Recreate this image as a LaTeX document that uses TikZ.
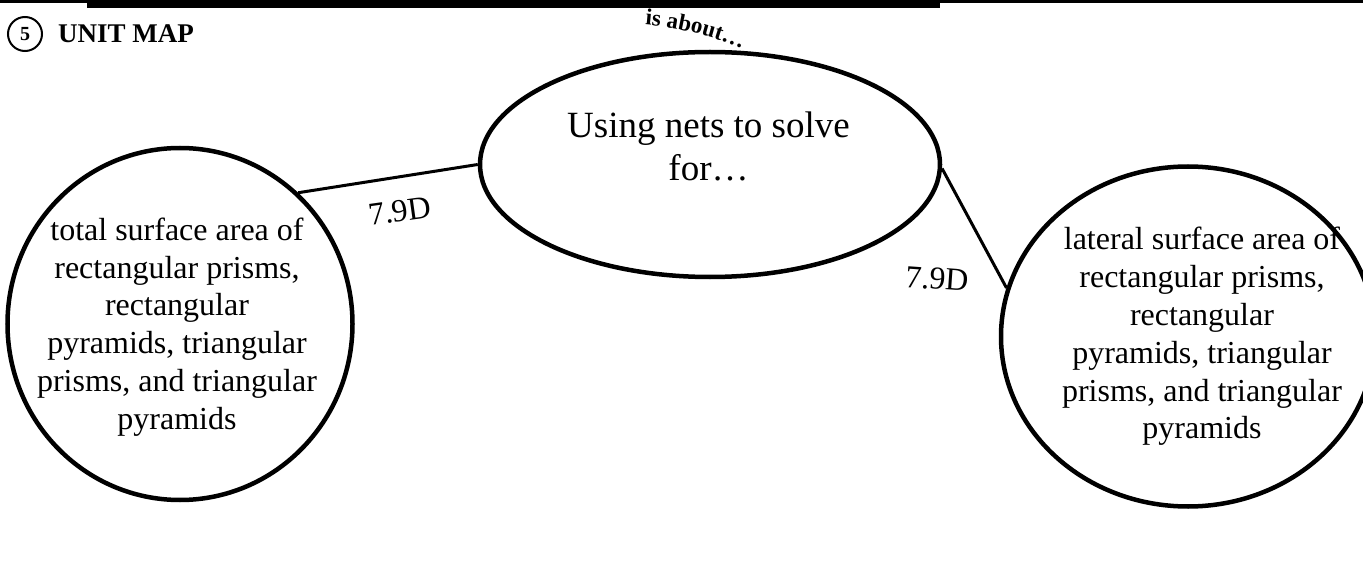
\documentclass[tikz,border=0pt]{standalone}
\usepackage{fontspec}
\setmainfont{Liberation Serif}
\usetikzlibrary{shapes.geometric,decorations.text}
\tikzset{
  bubble/.style={ellipse, draw, line width=4.5pt, inner sep=0pt},
  conn/.style={line width=3pt},
  ctext/.style={align=center, inner sep=0pt, font=\fontsize{32}{37.8}\selectfont},
  mtext/.style={align=center, inner sep=0pt, font=\fontsize{37}{43}\selectfont},
  lbl/.style={inner sep=0pt, font=\fontsize{32}{36}\selectfont},
}
\begin{document}
\begin{tikzpicture}[x=1pt,y=-1pt]
\useasboundingbox (0,0) rectangle (1363,588);
% top rules
\fill (0,0) rectangle (1363,3);
\fill (87,0) rectangle (940,8);
% heading
\node[circle, draw, line width=2pt, minimum size=34pt, inner sep=0pt,
      font=\bfseries\fontsize{20}{20}\selectfont] (num) at (25,34) {5};
\node[anchor=base west, inner sep=0pt, font=\bfseries\fontsize{27}{27}\selectfont]
      (title) at (58,43) {UNIT MAP};
% bubbles
\node[bubble, minimum width=345pt, minimum height=352pt] (L) at (180,324) {};
\node[bubble, minimum width=460pt, minimum height=225pt] (M) at (710,164.5) {};
\node[bubble, minimum width=374pt, minimum height=340pt] (R) at (1188,336.5) {};
% texts
\node[ctext] (Lt) at (177,327) {total surface area of\\rectangular prisms,\\rectangular\\pyramids, triangular\\prisms, and triangular\\pyramids};
\node[mtext] (Mt) at (708.5,146) {Using nets to solve\\for…};
\node[ctext] (Rt) at (1202,336.5) {lateral surface area of\\rectangular prisms,\\rectangular\\pyramids, triangular\\prisms, and triangular\\pyramids};
% connectors
\draw[conn] (L.48.6) -- (M.180);
\draw[conn] (M.-1) -- (R.165.6);
\node[lbl, rotate=8] (l1) at (400,211) {7.9D};
\node[lbl, rotate=-4] (l2) at (937,279) {7.9D};
% curved heading
\path[decorate, decoration={text along path, text align=left,
  text={|\bfseries\fontsize{23}{23}\selectfont|is about…}}]
  (645,25) .. controls (680,28) and (715,36) .. (750,52);
\end{tikzpicture}
\end{document}
